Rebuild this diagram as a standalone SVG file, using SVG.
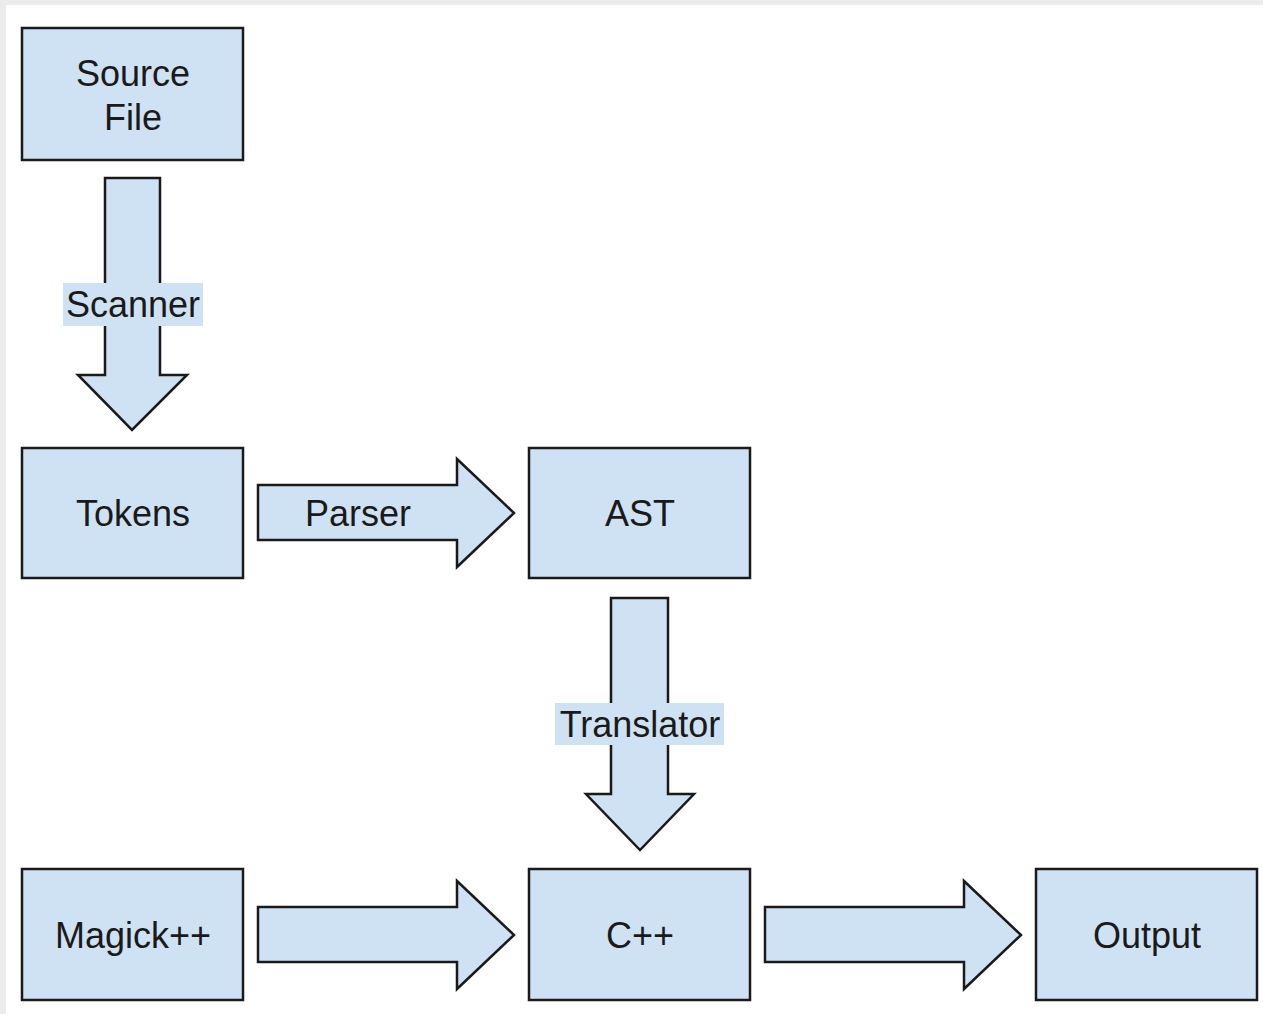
<svg xmlns="http://www.w3.org/2000/svg" width="1263" height="1014" viewBox="0 0 1263 1014">
<style>
.bg{fill:#ececec}
.node rect{fill:#cfe2f3;stroke:#1a1a1a;stroke-width:2.5}
.arrow{fill:#cfe2f3;stroke:#1a1a1a;stroke-width:2.5;stroke-linejoin:miter}
text{font-family:"Liberation Sans",Arial,sans-serif;font-size:36px;fill:#1a1a1a;text-anchor:middle}
.lblbg{fill:#cfe2f3}
</style>
<rect class="bg" x="0" y="0" width="1263" height="1014"/>
<rect x="6" y="5" width="1257" height="1009" fill="#ffffff"/>
<g id="connectors">
  <g id="scanner">
    <polygon class="arrow" points="105,178 160,178 160,375 187,375 132,430 78,375 105,375"/>
    <rect class="lblbg" x="63" y="283" width="140" height="43"/>
    <text x="133" y="317">Scanner</text>
  </g>
  <g id="parser">
    <polygon class="arrow" points="258,485 457,485 457,459 514,513 457,567 457,540 258,540"/>
    <text x="358" y="526">Parser</text>
  </g>
  <g id="translator">
    <polygon class="arrow" points="611,598 668,598 668,794 694,794 640,850 586,794 611,794"/>
    <rect class="lblbg" x="555" y="703" width="169" height="42"/>
    <text x="640" y="737">Translator</text>
  </g>
  <g id="magick-cpp">
    <polygon class="arrow" points="258,907 457,907 457,881 514,935 457,989 457,962 258,962"/>
  </g>
  <g id="cpp-output">
    <polygon class="arrow" points="765,907 964,907 964,881 1021,935 964,989 964,962 765,962"/>
  </g>
</g>
<g id="source-file" class="node">
  <rect x="22" y="28" width="221" height="132"/>
  <text x="133" y="86">Source</text>
  <text x="133" y="130">File</text>
</g>
<g id="tokens" class="node">
  <rect x="22" y="448" width="221" height="130"/>
  <text x="133" y="526">Tokens</text>
</g>
<g id="ast" class="node">
  <rect x="529" y="448" width="221" height="130"/>
  <text x="640" y="526">AST</text>
</g>
<g id="magick" class="node">
  <rect x="22" y="869" width="221" height="131"/>
  <text x="133" y="948">Magick++</text>
</g>
<g id="cpp" class="node">
  <rect x="529" y="869" width="221" height="131"/>
  <text x="640" y="948">C++</text>
</g>
<g id="output" class="node">
  <rect x="1036" y="869" width="221" height="131"/>
  <text x="1147" y="948">Output</text>
</g>
</svg>
